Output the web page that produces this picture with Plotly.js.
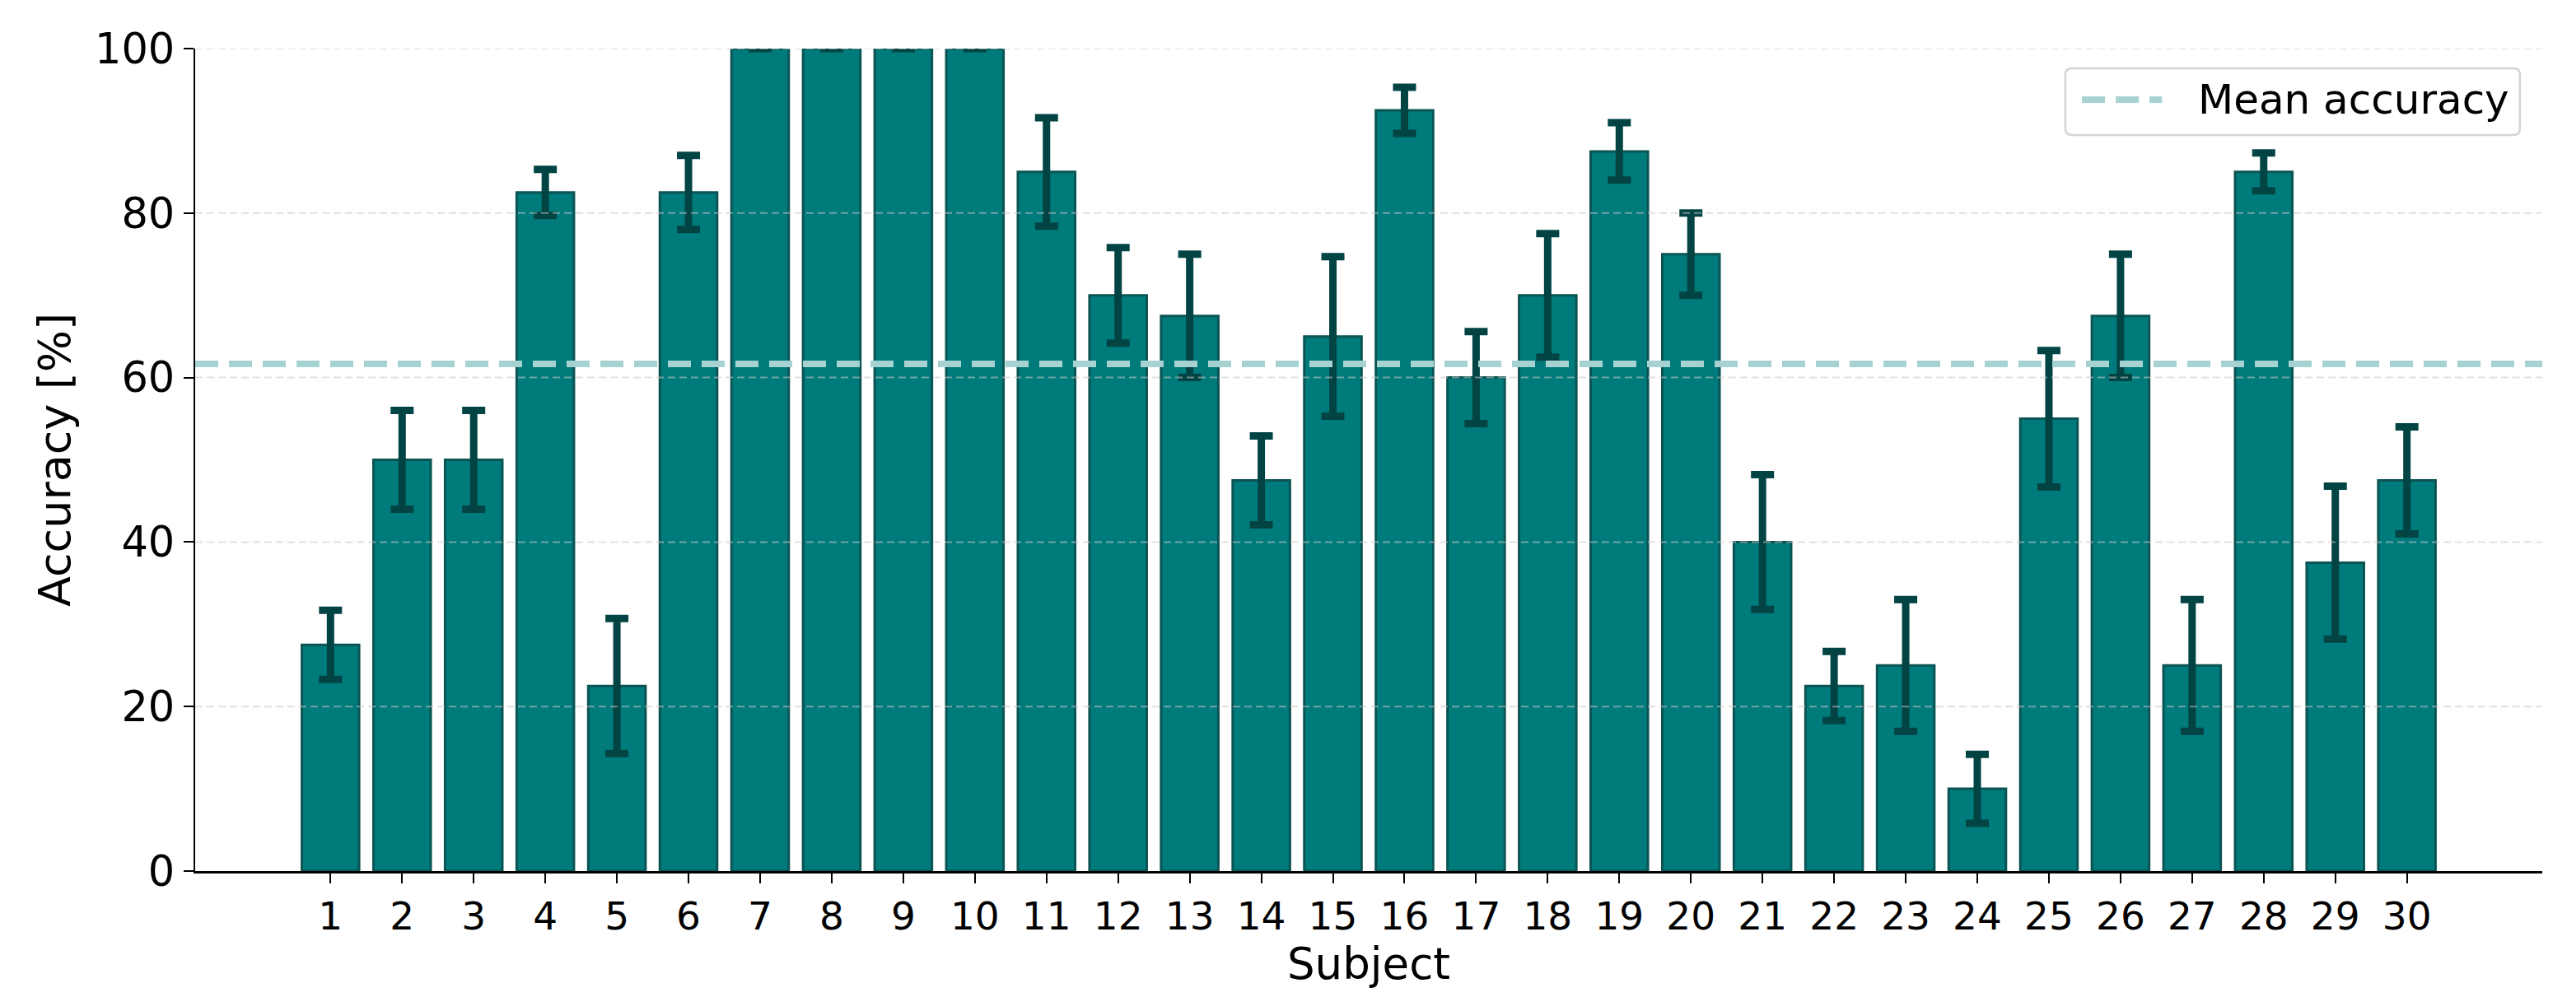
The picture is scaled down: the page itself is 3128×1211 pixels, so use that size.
<!DOCTYPE html>
<html>
<head>
<meta charset="utf-8">
<script src="https://cdn.plot.ly/plotly-3.0.1.min.js"></script>
<style>html,body{margin:0;padding:0;background:#fff;}#chart{width:3128px;height:1211px;}</style>
</head>
<body>
<div id="chart"></div>
<script>
const subjects = [1,2,3,4,5,6,7,8,9,10,11,12,13,14,15,16,17,18,19,20,21,22,23,24,25,26,27,28,29,30];
const accuracy = [27.5,50,50,82.5,22.5,82.5,100,100,100,100,85,70,67.5,47.5,65,92.5,60,70,87.5,75,40,22.5,25,10,55,67.5,25,85,37.5,47.5];
const errors = [4.2,6,6,2.8,8.2,4.5,0,0,0,0,6.6,5.8,7.5,5.4,9.7,2.8,5.6,7.5,3.5,5,8.2,4.2,8,4.2,8.3,7.5,8,2.3,9.3,6.5];
const yTicks = [0,20,40,60,80,100];
const legendLabel = 'Mean accuracy';
const meanAccuracy = accuracy.reduce((a,b)=>a+b,0)/accuracy.length;

const FONT = '"DejaVu Sans", "Liberation Sans", sans-serif';
const MEAN_COLOR = '#a6d2d2';

const bars = {
  type: 'bar',
  x: subjects,
  y: accuracy,
  width: 0.8,
  marker: {color: '#007b7b', line: {color: '#0b5454', width: 3}},
  error_y: {type: 'data', array: errors, visible: true, color: '#024444', thickness: 9, width: 14},
  showlegend: false,
  hoverinfo: 'x+y'
};

const gridShapes = yTicks.filter(v => v > 0).map(v => ({
  type: 'line', xref: 'paper', yref: 'y', x0: 0, x1: 1, y0: v, y1: v,
  line: {color: 'rgba(200,200,200,0.55)', width: 2, dash: '9px,5px'}, layer: 'above'
}));

// legend box (matplotlib-style rounded frame), in paper coordinates
const bx0 = 0.7968, bx1 = 0.9905, by0 = 0.895, by1 = 0.976, rx = 0.0028, ry = 0.008;
const boxPath = `M ${bx0+rx},${by1} L ${bx1-rx},${by1} Q ${bx1},${by1} ${bx1},${by1-ry} L ${bx1},${by0+ry} Q ${bx1},${by0} ${bx1-rx},${by0} L ${bx0+rx},${by0} Q ${bx0},${by0} ${bx0},${by0+ry} L ${bx0},${by1-ry} Q ${bx0},${by1} ${bx0+rx},${by1} Z`;
const legendY = 0.938;

const layout = {
  width: 3128, height: 1211,
  margin: {l: 237, r: 41, t: 59, b: 153},
  paper_bgcolor: '#ffffff', plot_bgcolor: '#ffffff',
  font: {family: FONT, color: '#000000'},
  xaxis: {
    range: [-0.89, 31.89],
    tickvals: subjects,
    ticktext: subjects.map(String),
    ticks: 'outside', ticklen: 12, tickwidth: 2, tickcolor: '#000',
    tickfont: {family: FONT, size: 47, color: '#000'},
    showline: true, linecolor: '#000', linewidth: 2.5,
    showgrid: false, zeroline: false,
    title: {text: 'Subject', font: {family: FONT, size: 53, color: '#000'}, standoff: 12},
    automargin: false
  },
  yaxis: {
    range: [0, 100],
    tickvals: yTicks,
    ticktext: yTicks.map(String),
    ticks: 'outside', ticklen: 12, tickwidth: 2, tickcolor: '#000',
    tickfont: {family: FONT, size: 51, color: '#000'},
    showline: true, linecolor: '#000', linewidth: 2.5,
    showgrid: false, zeroline: false,
    title: {text: 'Accuracy [%]', font: {family: FONT, size: 54, color: '#000'}, standoff: 12},
    automargin: false
  },
  shapes: gridShapes.concat([
    {type: 'line', xref: 'paper', yref: 'y', x0: 0, x1: 1, y0: meanAccuracy, y1: meanAccuracy,
     line: {color: MEAN_COLOR, width: 8, dash: '28px,13px'}, layer: 'above'},
    {type: 'path', xref: 'paper', yref: 'paper', path: boxPath,
     fillcolor: 'rgba(255,255,255,0.85)', line: {color: '#d4d4d4', width: 2.5}, layer: 'above'},
    {type: 'line', xref: 'paper', yref: 'paper', x0: 0.8039, x1: 0.838, y0: legendY, y1: legendY,
     line: {color: MEAN_COLOR, width: 8, dash: '28px,13px'}, layer: 'above'}
  ]),
  annotations: [{
    xref: 'paper', yref: 'paper', x: 0.8525, y: legendY, xanchor: 'left', yanchor: 'middle',
    text: legendLabel, showarrow: false, font: {family: FONT, size: 50, color: '#000'}
  }],
  showlegend: false,
  bargap: 0.2
};

Plotly.newPlot('chart', [bars], layout, {displayModeBar: false, staticPlot: true});
</script>
</body>
</html>
